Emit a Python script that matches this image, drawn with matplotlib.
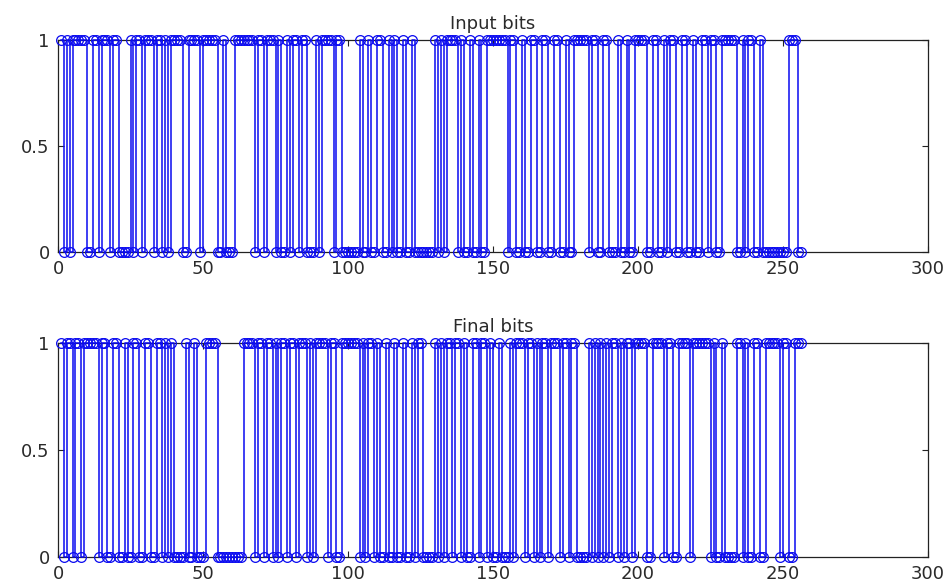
import numpy as np
import matplotlib.pyplot as plt

# 256 bits, stairs plot like MATLAB's stairs(x, 'o-')
n_bits = 256
first_bit = 1

# positions (x index) where the bit value flips
input_flips = [2, 3, 4, 5, 10, 12, 14, 15, 18, 19, 21, 25, 26, 27, 29, 30, 33, 34,
               36, 37, 38, 39, 43, 45, 49, 50, 55, 57, 58,
               61, 68, 69, 71, 72, 75, 76, 77, 79, 80, 81, 83, 84, 86, 89, 90, 91,
               95, 96, 98, 104, 105, 107, 108, 110, 112, 114, 115, 116, 117, 119,
               120, 122, 123,
               130, 131, 132, 133, 134, 138, 139, 140, 142, 143, 145, 146, 148, 155,
               156, 158, 160, 161, 163, 165, 167, 169, 171, 173, 175, 176, 178, 183,
               184, 186, 188, 190,
               193, 194, 196, 197, 199, 203, 205, 207, 209, 210, 211, 213, 215, 217,
               219, 220, 222, 224, 225, 227, 229, 234, 236, 237, 238, 240, 242, 243,
               252, 255]

final_flips = [2, 3, 5, 6, 8, 9, 14, 15, 17, 19, 21, 23, 24, 26, 28, 30, 32, 34,
               36, 37, 38, 39, 40, 44, 45, 47, 48, 51, 55,
               64, 68, 69, 71, 72, 74, 75, 76, 77, 79, 80, 82, 83, 86, 87, 88, 89,
               93, 94, 96, 98, 104, 105, 106, 107, 109, 110, 111, 113, 114, 116, 117,
               119, 120,
               122, 123, 124, 126, 130, 131, 132, 133, 134, 136, 137, 139, 140, 141,
               143, 145, 146, 148, 149, 150, 152, 153, 156, 157, 158, 161, 162, 164,
               165, 166, 167, 169, 170, 173, 174, 176, 177, 179, 183, 184, 185, 186,
               187,
               188, 189, 190, 191, 193, 194, 195, 196, 198, 199, 203, 205, 209, 210,
               212, 214, 218, 219, 225, 226, 227, 229, 230, 234, 236, 237, 238, 240,
               242, 244, 249, 250, 252, 254]

titles = ['Input bits', 'Final bits']
x_ticks = [0, 50, 100, 150, 200, 250, 300]
y_ticks = [0, 0.5, 1]
y_labels = ['0', '0.5', '1']


def decode(flips):
    bits = np.zeros(n_bits, dtype=int)
    v = first_bit
    for i in range(1, n_bits + 1):
        if i in flips:
            v = 1 - v
        bits[i - 1] = v
    return bits


x = np.arange(1, n_bits + 1)
txt = '#2a2a2a'

fig = plt.figure(figsize=(9.51, 5.88), dpi=100)
rects = [[0.061, 0.5714, 0.915, 0.3605], [0.061, 0.0527, 0.915, 0.364]]

for rect, flips, title in zip(rects, [input_flips, final_flips], titles):
    ax = fig.add_axes(rect)
    bits = decode(flips)
    ax.step(x, bits, where='post', color='#0a0af0', lw=1.1,
            marker='o', ms=7, mfc='none', mew=0.9, clip_on=False, zorder=3)
    ax.set_xlim(0, 300)
    ax.set_ylim(0, 1)
    ax.set_xticks(x_ticks)
    ax.set_yticks(y_ticks)
    ax.set_yticklabels(y_labels)
    ax.tick_params(direction='in', top=True, right=True, length=4, width=0.8,
                   labelsize=13, labelcolor=txt, color='#222222')
    ax.tick_params(axis='x', pad=6)
    ax.tick_params(axis='y', pad=6)
    for s in ax.spines.values():
        s.set_color('#222222')
        s.set_linewidth(0.9)
    ax.set_title(title, fontsize=13, color=txt, pad=8)

fig.savefig('out.png', dpi=100)
